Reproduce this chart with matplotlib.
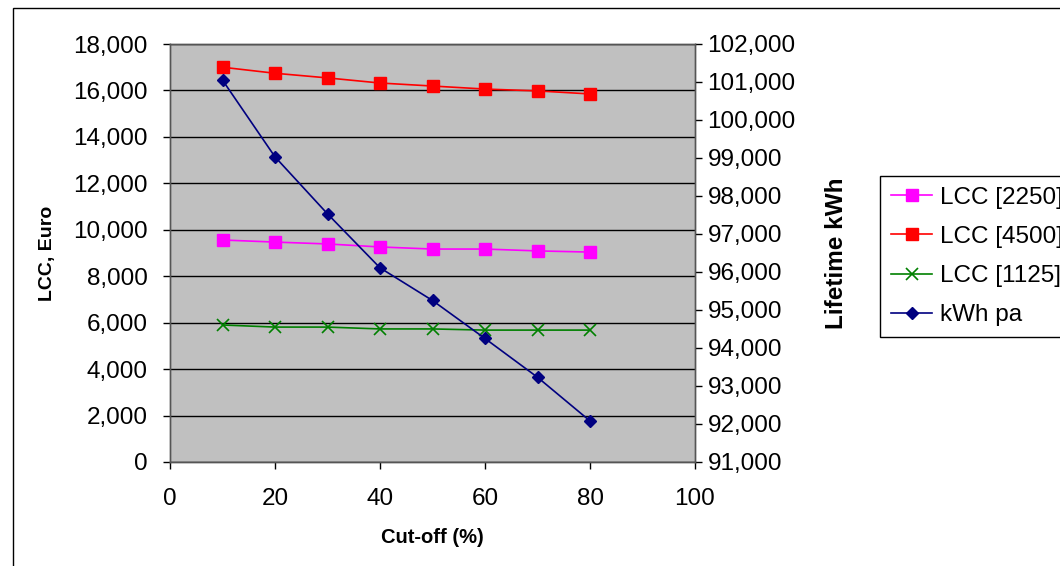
import matplotlib.pyplot as plt
from matplotlib.patches import Rectangle
from matplotlib.ticker import FuncFormatter

plt.rcParams['font.family'] = ['Liberation Sans', 'DejaVu Sans']

# Data
cutoff = [10, 20, 30, 40, 50, 60, 70, 80]
lcc_2250 = [9560, 9470, 9390, 9260, 9170, 9170, 9090, 9040]
lcc_4500 = [17000, 16740, 16540, 16320, 16190, 16060, 15980, 15850]
lcc_1125 = [5900, 5810, 5810, 5730, 5730, 5680, 5680, 5680]
kwh_pa = [101050, 99030, 97530, 96110, 95250, 94250, 93230, 92080]

fig = plt.figure(figsize=(10.6, 5.66), dpi=100)
fig.patch.set_facecolor('white')

# outer chart border (runs off right/bottom edge)
fig.patches.append(Rectangle((13 / 1060, -0.05), 1.2, 1 - 8 / 566 + 0.05,
                             transform=fig.transFigure, fill=False,
                             edgecolor='black', linewidth=1))

ax = fig.add_axes([170 / 1060, 1 - 462 / 566, 525 / 1060, 418 / 566])
ax.set_facecolor('#c0c0c0')
ax2 = ax.twinx()

comma = FuncFormatter(lambda v, p: f'{int(v):,}')

l1, = ax.plot(cutoff, lcc_2250, color='#ff00ff', marker='s', markersize=8,
              linewidth=1.2, label='LCC [2250]')
l2, = ax.plot(cutoff, lcc_4500, color='#ff0000', marker='s', markersize=8,
              linewidth=1.2, label='LCC [4500]')
l3, = ax.plot(cutoff, lcc_1125, color='#008000', marker='x', markersize=8,
              markeredgewidth=1.2, linewidth=1.2, label='LCC [1125]')
l4, = ax2.plot(cutoff, kwh_pa, color='#000080', marker='D', markersize=6,
               linewidth=1.2, label='kWh pa')

ax.set_xlim(0, 100)
ax.set_ylim(0, 18000)
ax.set_xticks(range(0, 101, 20))
ax.set_yticks(range(0, 18001, 2000))
ax.yaxis.set_major_formatter(comma)
ax.grid(axis='y', color='black', linewidth=1)
ax.set_axisbelow(True)

ax2.set_ylim(91000, 102000)
ax2.set_yticks(range(91000, 102001, 1000))
ax2.yaxis.set_major_formatter(comma)

for a in (ax, ax2):
    a.tick_params(labelsize=17.5, length=5, direction='out', width=1)
    for s in a.spines.values():
        s.set_color('#555555')
        s.set_linewidth(1)
ax.tick_params(axis='y', pad=11)
ax.tick_params(axis='x', pad=14)
ax2.tick_params(axis='y', pad=4)

ax.set_xlabel('Cut-off (%)', fontsize=14.5, fontweight='bold', labelpad=13)
ax.set_ylabel('LCC, Euro', fontsize=14, fontweight='bold', labelpad=12)
ax2.set_ylabel('Lifetime kWh', fontsize=17.5, fontweight='bold', labelpad=21)

fig.legend(handles=[l1, l2, l3, l4], loc='upper left',
           bbox_to_anchor=(880 / 1060, 1 - 176 / 566),
           bbox_transform=fig.transFigure, fontsize=17.5, frameon=True,
           fancybox=False, edgecolor='black', framealpha=1,
           handlelength=1.7, borderpad=0.45, labelspacing=0.7,
           handletextpad=0.3, borderaxespad=0)

plt.savefig('out.png', dpi=100)
